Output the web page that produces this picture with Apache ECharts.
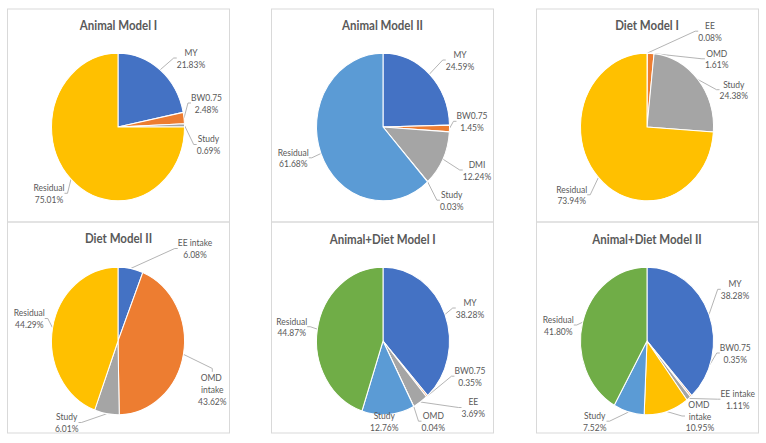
<!DOCTYPE html>
<html>
<head>
<meta charset="utf-8">
<script src="https://cdn.jsdelivr.net/npm/echarts@6/dist/echarts.min.js"></script>
<style>
  html { margin: 0; padding: 0; background: #ffffff; }
  body { margin: 0; padding: 0; background: #ffffff; width: 766px; height: 443px; }
  #wrap { width: 766px; height: 399px; transform: scaleY(1.11028); transform-origin: 0 0; }
</style>
</head>
<body>
<div id="wrap"></div>
<script>
// ---------------- DATA ----------------
const animalModel1Names  = ['MY', 'BW0.75', 'Study', 'Residual'];
const animalModel1Values = [21.83, 2.48, 0.69, 75.01];

const animalModel2Names  = ['MY', 'BW0.75', 'DMI', 'Study', 'Residual'];
const animalModel2Values = [24.59, 1.45, 12.24, 0.03, 61.68];

const dietModel1Names  = ['EE', 'OMD', 'Study', 'Residual'];
const dietModel1Values = [0.08, 1.61, 24.38, 73.94];

const dietModel2Names  = ['EE intake', 'OMD intake', 'Study', 'Residual'];
const dietModel2Values = [6.08, 43.62, 6.01, 44.29];

const animalDiet1Names  = ['MY', 'BW0.75', 'EE', 'OMD', 'Study', 'Residual'];
const animalDiet1Values = [38.28, 0.35, 3.69, 0.04, 12.76, 44.87];

const animalDiet2Names  = ['MY', 'BW0.75', 'EE intake', 'OMD intake', 'Study', 'Residual'];
const animalDiet2Values = [38.28, 0.35, 1.11, 10.95, 7.52, 41.80];

const chartTitles = ['Animal Model I', 'Animal Model II', 'Diet Model I',
                     'Diet Model II', 'Animal+Diet Model I', 'Animal+Diet Model II'];

// ---------------- STYLE / LAYOUT ----------------
const S = 443 / 399;             // vertical stretch of the reference picture
const BLUE = '#4472C4', ORANGE = '#ED7D31', GRAY = '#A5A5A5',
      GOLD = '#FFC000', LBLUE = '#5B9BD5', GREEN = '#70AD47';

const colors1 = [BLUE, ORANGE, GRAY, GOLD];
const colors2 = [BLUE, ORANGE, GRAY, GOLD, LBLUE];
const colors3 = [BLUE, ORANGE, GRAY, GOLD];
const colors4 = [BLUE, ORANGE, GRAY, GOLD];
const colors5 = [BLUE, ORANGE, GRAY, GOLD, LBLUE, GREEN];
const colors6 = [BLUE, ORANGE, GRAY, GOLD, LBLUE, GREEN];

const colX = [118, 383, 647];
const rowY = [127, 341];
const R = 66.5;

// label centres (reference pixel space)
const labelPos1 = [[191, 58], [206.5, 103], [208.5, 144.5], [49, 193.3]];
const labelPos2 = [[460, 60], [472, 121.3], [477, 170], [451.7, 200.2], [293.3, 157.8]];
const labelPos3 = [[710, 31.2], [716.7, 58.8], [733.8, 89.7], [571.7, 194.8]];
const labelPos4 = [[195, 248.5], [212.3, 389.3], [66.7, 422.5], [29.3, 318.5]];
const labelPos5 = [[470, 308], [470, 376.2], [473.3, 407.5], [433.3, 421.2], [384.3, 421.2], [291.7, 326.7]];
const labelPos6 = [[735, 289.3], [735.3, 353], [737.7, 399.2], [700, 416], [594.7, 421.2], [558.3, 325]];

const titleCenters = [[118.5, 25], [382.5, 25], [647, 25], [118.5, 238.5], [382.7, 239.3], [647, 239.3]];

const panels = [
  [7.5, 9, 222, 213], [271.5, 9, 222, 213], [536.5, 9, 222, 213],
  [7.5, 222, 222, 211], [271.5, 222, 222, 211], [536.5, 222, 222, 211]
];

const FONT = 'Lato, "Open Sans", sans-serif';

function pieSeries(names, values, colors, cx, cy, labelPos) {
  return {
    type: 'pie',
    center: [cx, cy / S],
    radius: R,
    startAngle: 90,
    clockwise: true,
    avoidLabelOverlap: false,
    silent: true,
    animation: false,
    itemStyle: { borderColor: '#ffffff', borderWidth: 1 },
    data: names.map(function (n, j) {
      const item = { name: n, value: values[j], itemStyle: { color: colors[j] } };
      if (n.indexOf('OMD intake') === 0) {
        item.label = { width: 30, overflow: 'break' };
      }
      return item;
    }),
    label: {
      show: true,
      position: 'outside',
      formatter: function (p) { return p.name + '\n' + p.value.toFixed(2) + '%'; },
      fontFamily: FONT,
      fontSize: 8.5,
      lineHeight: 10.5,
      color: '#595959',
      align: 'center'
    },
    labelLine: {
      show: true,
      length: 5,
      length2: 3,
      lineStyle: { color: '#A6A6A6', width: 0.8 }
    },
    labelLayout: function (p) {
      const pos = labelPos[p.dataIndex];
      return { x: pos[0], y: pos[1] / S, align: 'center', verticalAlign: 'middle' };
    }
  };
}

const chart = echarts.init(document.getElementById('wrap'), null,
  { renderer: 'svg', width: 766, height: 399 });

const option = {
  backgroundColor: '#ffffff',
  animation: false,
  title: chartTitles.map(function (t, i) {
    return {
      text: t,
      left: titleCenters[i][0],
      top: titleCenters[i][1] / S - 6,
      padding: 0,
      textAlign: 'center',
      textStyle: { fontFamily: FONT, fontSize: 11.5, fontWeight: 'bold', color: '#595959', lineHeight: 12 }
    };
  }),
  graphic: panels.map(function (p) {
    return {
      type: 'rect',
      silent: true,
      z: -10,
      shape: { x: p[0], y: p[1] / S, width: p[2], height: p[3] / S },
      style: { fill: 'none', stroke: '#D9D9D9', lineWidth: 1 }
    };
  }),
  series: [
    pieSeries(animalModel1Names, animalModel1Values, colors1, colX[0], rowY[0], labelPos1),
    pieSeries(animalModel2Names, animalModel2Values, colors2, colX[1], rowY[0], labelPos2),
    pieSeries(dietModel1Names,  dietModel1Values,  colors3, colX[2], rowY[0], labelPos3),
    pieSeries(dietModel2Names,  dietModel2Values,  colors4, colX[0], rowY[1], labelPos4),
    pieSeries(animalDiet1Names, animalDiet1Values, colors5, colX[1], rowY[1], labelPos5),
    pieSeries(animalDiet2Names, animalDiet2Values, colors6, colX[2], rowY[1], labelPos6)
  ]
};
chart.setOption(option);
</script>
</body>
</html>
